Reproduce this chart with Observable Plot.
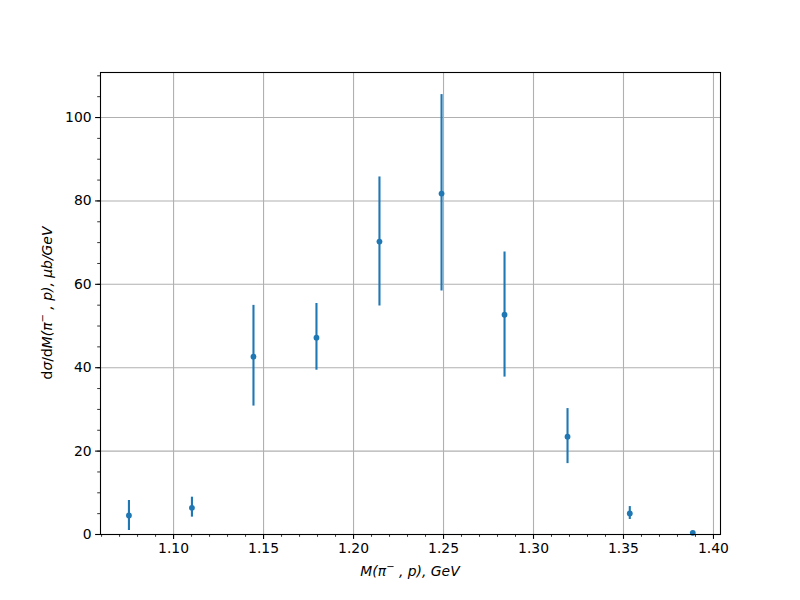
<!DOCTYPE html>
<html>
<head>
<meta charset="utf-8">
<script src="https://cdn.jsdelivr.net/npm/d3@7"></script>
<script src="https://cdn.jsdelivr.net/npm/@observablehq/plot@0.6"></script>
<style>
  html, body { margin: 0; padding: 0; background: #fff; }
  #chart { width: 800px; height: 600px; }
  svg { font-family: "DejaVu Sans", sans-serif; }
</style>
</head>
<body>
<div id="chart"></div>
<script>
// Data
const mass = [1.0752, 1.1102, 1.1444, 1.1794, 1.2144, 1.2489, 1.2839, 1.3189, 1.3535, 1.3885];
const xsec = [4.56, 6.4, 42.65, 47.2, 70.24, 81.76, 52.7, 23.45, 5.04, 0.4];
const errLow = [0.96, 4.16, 30.8, 39.4, 54.8, 58.4, 37.75, 17.0, 3.6, 0.2];
const errHigh = [8.16, 8.95, 54.95, 55.4, 85.75, 105.5, 67.75, 30.2, 6.7, 0.6];
const xTicks = [1.10, 1.15, 1.20, 1.25, 1.30, 1.35, 1.40];
const yTicks = [0, 20, 40, 60, 80, 100];
const xMinor = d3.range(106, 141).map(v => v / 100);
const yMinor = d3.range(0, 115, 5);

const rows = mass.map((m, i) => ({m, y: xsec[i], lo: errLow[i], hi: errHigh[i]}));

const blue = "#1f77b4";
const W = 800, H = 600;
const mL = 100, mR = 80, mT = 72, mB = 66;

const chart = Plot.plot({
  width: W,
  height: H,
  marginLeft: mL,
  marginRight: mR,
  marginTop: mT,
  marginBottom: mB,
  style: {fontFamily: "DejaVu Sans, sans-serif", fontSize: "13.9px", background: "#fff", color: "#000"},
  x: {domain: [1.0594, 1.4039], label: null},
  y: {domain: [0, 110.8], label: null},
  marks: [
    Plot.gridX(xTicks, {stroke: "#b0b0b0", strokeOpacity: 1, strokeWidth: 1.1}),
    Plot.gridY(yTicks, {stroke: "#b0b0b0", strokeOpacity: 1, strokeWidth: 1.1}),
    Plot.axisX(xMinor, {tickSize: 2.8, tickFormat: null, text: null, strokeWidth: 0.8, stroke: "#000"}),
    Plot.axisY(yMinor, {tickSize: 2.8, tickFormat: null, text: null, strokeWidth: 0.8, stroke: "#000"}),
    Plot.axisX(xTicks, {tickSize: 4.9, tickPadding: 4, tickFormat: d3.format(".2f"), strokeWidth: 1.1, stroke: "#000", fill: "#000", fontSize: 13.9, label: null}),
    Plot.axisY(yTicks, {tickSize: 4.9, tickPadding: 4, tickFormat: d3.format("d"), strokeWidth: 1.1, stroke: "#000", fill: "#000", fontSize: 13.9, label: null}),
    Plot.ruleX(rows, {x: "m", y1: "lo", y2: "hi", stroke: blue, strokeWidth: 2.1}),
    Plot.dot(rows, {x: "m", y: "y", r: 2.9, fill: blue, stroke: "none"}),
    Plot.frame({stroke: "#000", strokeWidth: 1.1})
  ]
});

document.getElementById("chart").appendChild(chart);

// Axis titles with mathtext-like styling
const svg = d3.select(chart);
const cx = mL + (W - mL - mR) / 2;
const cy = mT + (H - mT - mB) / 2;

const xl = svg.append("text")
  .attr("x", cx).attr("y", 576)
  .attr("text-anchor", "middle")
  .attr("font-size", 13.9).attr("fill", "#000");
xl.append("tspan").attr("font-style", "italic").text("M(π");
xl.append("tspan").attr("font-size", 10).attr("dy", -6).text("−");
xl.append("tspan").attr("dy", 6).attr("font-style", "italic").text(" , p), GeV");

const yl = svg.append("text")
  .attr("transform", `translate(52,${cy}) rotate(-90)`)
  .attr("text-anchor", "middle")
  .attr("font-size", 13.9).attr("fill", "#000");
yl.append("tspan").text("d");
yl.append("tspan").attr("font-style", "italic").text("σ");
yl.append("tspan").text("/d");
yl.append("tspan").attr("font-style", "italic").text("M(π");
yl.append("tspan").attr("font-size", 10).attr("dy", -6).text("−");
yl.append("tspan").attr("dy", 6).attr("font-style", "italic").text(" , p), μb/GeV");
</script>
</body>
</html>
